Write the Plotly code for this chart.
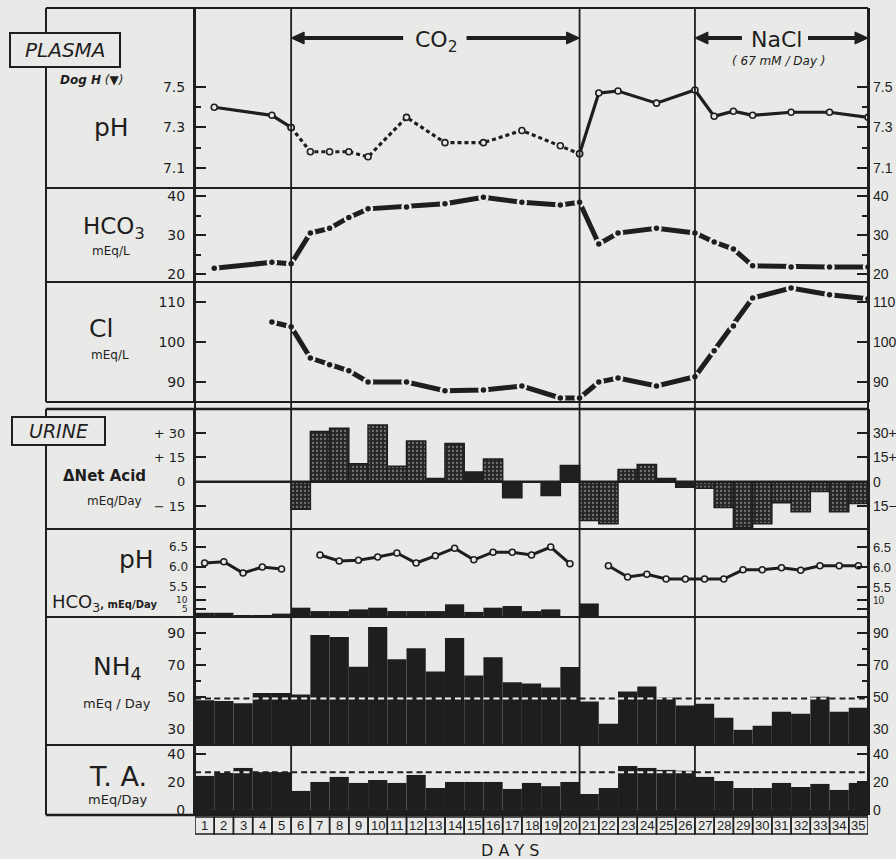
import plotly.graph_objects as go

# ---------------- data ----------------
DAYS = list(range(1, 36))
CO2_START, CO2_END, NACL_START = 5, 20, 26

# plasma samples, taken at the end of the listed day
plasma_day = [1, 4, 5, 6, 7, 8, 9, 11, 13, 15, 17, 19, 20, 21, 22, 24, 26, 27, 28, 29, 31, 33, 35]
plasma_ph = [7.40, 7.36, 7.30, 7.18, 7.18, 7.18, 7.155, 7.35, 7.225, 7.225, 7.285, 7.21, 7.17,
             7.47, 7.48, 7.42, 7.485, 7.355, 7.38, 7.36, 7.375, 7.375, 7.35]
plasma_hco3 = [21.5, 23.0, 22.6, 30.5, 31.7, 34.5, 36.7, 37.2, 38.0, 39.7, 38.4, 37.7, 38.4,
               27.7, 30.5, 31.7, 30.5, 28.2, 26.4, 22.1, 21.8, 21.8, 21.8]
plasma_cl_day = [4, 5, 6, 7, 8, 9, 11, 13, 15, 17, 19, 20, 21, 22, 24, 26, 27, 28, 29, 31, 33, 35]
plasma_cl = [105.0, 103.8, 96.0, 94.3, 92.8, 90.0, 90.0, 87.8, 88.0, 89.0, 86.0, 86.0,
             90.0, 91.0, 89.0, 91.3, 97.8, 104.0, 111.0, 113.5, 111.8, 110.8]

# urine, one value per day
net_acid = [None, None, None, None, None, -17, 31, 33, 11, 35, 9.5, 25, 2, 23.5, 6, 14, -10, 0,
            -8.5, 10, -24, -26, 7.5, 10.5, 2, -3.5, -4, -16, -28.5, -26, -13, -18.5, -6, -18.5, -13.5]
urine_ph = [6.1, 6.13, 5.85, 6.0, 5.95, None, 6.3, 6.15, 6.17, 6.25, 6.35, 6.1, 6.28, 6.47, 6.18,
            6.37, 6.37, 6.3, 6.5, 6.08, None, 6.03, 5.75, 5.82, 5.7, 5.7, 5.7, 5.7, 5.93, 5.93,
            5.98, 5.92, 6.03, 6.03, 6.03]
urine_hco3 = [2.5, 2.5, 1, 1, 2, 5.5, 3.5, 3.5, 4.5, 5.5, 3.5, 3.5, 3.5, 7.5, 3, 5.5, 6.5, 3.5,
              4.5, 0.5, 8, 0.5, 0.5, 0.5, 0.5, 0.5, 0.5, 0.5, 0.5, 0.5, 0.5, 0.5, 0.5, 0.5, 0.5]
nh4 = [48, 47.5, 46, 52.5, 52.5, 51.5, 88.8, 87.5, 69, 93.8, 73.6, 80.5, 66, 87, 63.5, 74.9,
       59.2, 58.4, 56, 68.7, 47.2, 33.2, 53.4, 56.5, 49.6, 44.6, 45.8, 37, 29.4, 32, 40.8,
       39.5, 50.2, 40.8, 43.2]
ta = [24.3, 26.4, 30, 27, 27, 13.6, 20, 23.6, 19.3, 21.4, 19.3, 25, 15.7, 20, 20, 20, 15, 19.3,
      17, 20, 11.4, 15.7, 31.4, 30, 28.6, 28, 23.6, 20.7, 15.7, 15.7, 19.3, 16.4, 18.6, 14.3, 19.3]
NH4_CONTROL = 49
TA_CONTROL = 27

# tick values and labels
ph_ticks, ph_text, ph_minor = [7.1, 7.3, 7.5], ["7.1", "7.3", "7.5"], [7.2, 7.4]
hco3_ticks, hco3_text, hco3_minor = [20, 30, 40], ["20", "30", "40"], [25, 35]
cl_ticks, cl_text = [90, 100, 110], ["90", "100", "110"]
na_ticks = [-15, 0, 15, 30]
na_text_left = ["\u2212 15", "0", "+ 15", "+ 30"]
na_text_right = ["15\u2212", "0", "15+", "30+"]
uph_ticks, uph_text = [5.5, 6.0, 6.5], ["5.5", "6.0", "6.5"]
uhco3_ticks, uhco3_text = [5, 10], ["5", "10"]
nh4_ticks, nh4_text, nh4_minor = [30, 50, 70, 90], ["30", "50", "70", "90"], [60, 80]
ta_ticks, ta_text = [0, 20, 40], ["0", "20", "40"]

# fill style of each net-acid bar ("." stippled, "" solid)
net_acid_fill = ["", "", "", "", "", ".", ".", ".", ".", ".", ".", ".", "", ".", "", ".", "", "",
                 "", "", ".", ".", ".", ".", "", "", ".", ".", ".", ".", ".", ".", ".", ".", "."]

# ---------------- layout helpers ----------------
W, H = 896, 859
ML, MR, MT, MB = 195, 28, 8, 44
PW, PH = W - ML - MR, H - MT - MB
BG = "#e9e9e7"
INK = "#1e1e1e"
FONT = "DejaVu Sans"
NUM_FONT = "Liberation Sans"
PX_PER_DAY = PW / 35


def fx(px):
    return (px - ML) / PW


def fy(py):
    return (H - MB - py) / PH


centers = [d - 0.5 for d in DAYS]

fig = go.Figure()

# ---- plasma pH: solid outside the CO2 period, dotted inside it ----
open_marker = dict(symbol="circle", size=6, color=BG, line=dict(color=INK, width=1.6))
pre = [(d, v) for d, v in zip(plasma_day, plasma_ph) if d <= CO2_START]
mid = [(d, v) for d, v in zip(plasma_day, plasma_ph) if CO2_START <= d <= CO2_END]
post = [(d, v) for d, v in zip(plasma_day, plasma_ph) if d >= CO2_END]
for seg, dash in ((pre, "solid"), (mid, "4px,3px"), (post, "solid")):
    fig.add_trace(go.Scatter(x=[p[0] for p in seg], y=[p[1] for p in seg], yaxis="y",
                             mode="lines+markers", line=dict(color=INK, width=3.2, dash=dash),
                             marker=open_marker))

# ---- plasma HCO3 and Cl ----
dot_marker = dict(symbol="circle", size=8, color=INK, line=dict(color=BG, width=2.5))
fig.add_trace(go.Scatter(x=plasma_day, y=plasma_hco3, yaxis="y2", mode="lines+markers",
                         line=dict(color=INK, width=5), marker=dot_marker))
fig.add_trace(go.Scatter(x=plasma_cl_day, y=plasma_cl, yaxis="y3", mode="lines+markers",
                         line=dict(color=INK, width=5), marker=dot_marker))

# ---- urine net acid ----
fig.add_trace(go.Bar(x=centers, y=net_acid, width=1, yaxis="y4",
                     marker=dict(color="#202020", line=dict(color=INK, width=1.5),
                                 pattern=dict(shape=net_acid_fill, fgcolor="#bdbdbd",
                                              bgcolor="#262626", size=4, solidity=0.25))))

# ---- urine pH and HCO3 ----
fig.add_trace(go.Scatter(x=centers, y=urine_ph, yaxis="y5", mode="lines+markers",
                         line=dict(color=INK, width=3), marker=open_marker))
fig.add_trace(go.Bar(x=centers, y=urine_hco3, width=1, yaxis="y6",
                     marker=dict(color=INK, line=dict(width=0))))

# ---- NH4 and titratable acid ----
fig.add_trace(go.Bar(x=centers, y=nh4, width=1, yaxis="y7",
                     marker=dict(color=INK, line=dict(width=0))))
fig.add_trace(go.Bar(x=centers, y=ta, width=1, yaxis="y8",
                     marker=dict(color=INK, line=dict(width=0))))

# ---------------- axes ----------------
def yaxis(top, bottom, rng, ticks, text, minor, size, axis_labels):
    ax = dict(domain=[fy(bottom), fy(top)], range=rng, anchor="x",
              tickmode="array", tickvals=ticks, ticktext=text,
              ticks="inside", ticklen=11, tickwidth=2, tickcolor=INK,
              showline=True, linecolor=INK, linewidth=2, mirror="ticks",
              showgrid=False, zeroline=False, ticklabelstandoff=5,
              showticklabels=axis_labels,
              tickfont=dict(family=FONT, size=size, color=INK))
    if minor:
        ax["minor"] = dict(tickmode="array", tickvals=minor, ticks="inside", ticklen=6,
                           tickwidth=2, tickcolor=INK, showgrid=False)
    return ax


# name: (top px, bottom px, range, ticks, left text, minor, right text, font size, axis labels)
PANELS = {
    "y": (8, 188, [7.001, 7.890], ph_ticks, ph_text, ph_minor, ph_text, 14, True),
    "y2": (188, 282, [17.95, 42.05], hco3_ticks, hco3_text, hco3_minor, hco3_text, 14, True),
    "y3": (282, 402, [85, 115], cl_ticks, cl_text, None, cl_text, 14, True),
    "y4": (409, 529, [-29.2, 44.8], na_ticks, na_text_left, None, na_text_right, 13, True),
    "y5": (529, 617, [4.75, 6.95], uph_ticks, uph_text, None, uph_text, 12, False),
    "y6": (595, 617, [0, 13], uhco3_ticks, uhco3_text, None, ["", "10"], 9, False),
    "y7": (617, 745, [19.9, 100.1], nh4_ticks, nh4_text, nh4_minor, nh4_text, 14, True),
    "y8": (745, 815, [-3.6, 46.4], ta_ticks, ta_text, None, ta_text, 14, True),
}

layout_axes = {}
annotations = []
for name, (top, bot, rng, tv, tt, mn, rt, fs, on_axis) in PANELS.items():
    key = "yaxis" if name == "y" else "yaxis" + name[1:]
    layout_axes[key] = yaxis(top, bot, rng, tv, tt, mn, fs, on_axis)
    for v, t in zip(tv, rt):
        if t:
            annotations.append(dict(x=1, xref="paper", y=v, yref=name, xanchor="left",
                                    xshift=3, text=t, showarrow=False,
                                    font=dict(family=NUM_FONT, size=min(fs + 1, 14), color=INK)))
    if not on_axis:
        # the urine pH and bicarbonate scales share one panel; label them directly
        for v, t in zip(tv, tt):
            annotations.append(dict(x=0, xref="paper", y=v, yref=name, xanchor="right",
                                    xshift=-5, text=t, showarrow=False,
                                    font=dict(family=FONT, size=fs, color=INK)))

# ---------------- frame and rules ----------------
shapes = []
LW = 2


def hline(py, x0=46, x1=868, w=LW):
    shapes.append(dict(type="line", xref="paper", yref="paper", x0=fx(x0), x1=fx(x1),
                       y0=fy(py), y1=fy(py), line=dict(color=INK, width=w)))


def vline_px(px, y0, y1, w=LW):
    shapes.append(dict(type="line", xref="paper", yref="paper", x0=fx(px), x1=fx(px),
                       y0=fy(y0), y1=fy(y1), line=dict(color=INK, width=w)))


# dark strip below zero for the T.A. bars
shapes.append(dict(type="rect", xref="x", yref="y8", x0=0, x1=35, y0=-3.6, y1=0,
                   fillcolor=INK, line=dict(width=0), layer="below"))

for py in (8, 188, 282, 402, 529, 617, 745):
    hline(py)
hline(815, w=2.5)
hline(409, w=2.5)
vline_px(46, 8, 402)
vline_px(46, 409, 815)
vline_px(195, 8, 815)
vline_px(868, 8, 815)
for d in (CO2_START, CO2_END, NACL_START):
    shapes.append(dict(type="line", xref="x", yref="paper", x0=d, x1=d, y0=0, y1=1,
                       line=dict(color=INK, width=1.8)))

# zero line of the net acid panel
shapes.append(dict(type="line", xref="x", yref="y4", x0=0, x1=35, y0=0, y1=0,
                   line=dict(color=INK, width=2.5)))

# control levels for NH4 and T.A.: light dashes over the bars, dark dashes elsewhere
for level, vals, yref in ((NH4_CONTROL, nh4, "y7"), (TA_CONTROL, ta, "y8")):
    for d, v in zip(DAYS, vals):
        shapes.append(dict(type="line", xref="x", yref=yref, x0=d - 1, x1=d, y0=level, y1=level,
                           line=dict(color="#f0f0f0" if v > level else INK, width=2,
                                     dash="6px,4px")))

# day number boxes
for d in DAYS:
    shapes.append(dict(type="rect", xref="x", yref="paper", x0=d - 1, x1=d, y0=fy(834), y1=fy(817),
                       line=dict(color=INK, width=1.5)))
    annotations.append(dict(x=d - 0.5, xref="x", y=fy(825.5), yref="paper", text=str(d),
                            showarrow=False, yanchor="middle",
                            font=dict(family="Liberation Sans Narrow, Liberation Sans", size=13,
                                      color=INK)))

# section label boxes
for x0, y0, x1, y1 in ((10, 33, 120, 67), (12, 417, 105, 445)):
    shapes.append(dict(type="rect", xref="paper", yref="paper", x0=fx(x0), x1=fx(x1),
                       y0=fy(y1), y1=fy(y0), fillcolor=BG, line=dict(color=INK, width=2)))

# treatment arrows: shaft plus a triangular head pointing at the period boundary
ARROW_Y = fy(38)
HEAD_LEN = 13 / PX_PER_DAY
HEAD_HALF = 6 / PH
for head, direction, shaft_px in ((CO2_START, 1, 112), (CO2_END, -1, 113),
                                  (NACL_START, 1, 47), (35, -1, 60)):
    tail = head + direction * shaft_px / PX_PER_DAY
    base = head + direction * HEAD_LEN
    shapes.append(dict(type="line", xref="x", yref="paper", x0=base, x1=tail,
                       y0=ARROW_Y, y1=ARROW_Y, line=dict(color=INK, width=4)))
    shapes.append(dict(type="path", xref="x", yref="paper",
                       path=f"M {head} {ARROW_Y} L {base} {ARROW_Y + HEAD_HALF} "
                            f"L {base} {ARROW_Y - HEAD_HALF} Z",
                       fillcolor=INK, line=dict(color=INK, width=1)))


def label(text, cx, cy, size, xanchor="center"):
    annotations.append(dict(x=fx(cx), y=fy(cy), xref="paper", yref="paper", text=text,
                            showarrow=False, xanchor=xanchor, yanchor="middle",
                            font=dict(family=FONT, size=size, color=INK)))


label("<i>PLASMA</i>", 65, 50, 20)
label("<i><b>Dog H</b> (▼)</i>", 92, 80, 12)
label("pH", 111, 127, 25)
label("HCO<sub>3</sub>", 114, 228, 23)
label("mEq/L", 111, 251, 12)
label("Cl", 101, 329, 25)
label("mEq/L", 110, 355, 12)
label("<i>URINE</i>", 58, 431, 19)
label("<b>ΔNet Acid</b>", 104, 476, 15)
label("mEq/Day", 114, 501, 12)
label("pH", 136, 559, 25)
label("HCO<sub>3</sub><span style='font-size:10px'><b>, mEq/Day</b></span>", 50, 603, 18,
      xanchor="left")
label("NH<sub>4</sub>", 117, 668, 25)
label("mEq / Day", 117, 703, 13)
label("T. A.", 118, 776, 27)
label("mEq/Day", 117, 799, 13)
label("D A Y S", 510, 850, 16)

# treatment periods
label("CO<sub>2</sub>", 436, 42, 22)
label("NaCl", 776, 39, 22)
label("<i>( 67 mM / Day )</i>", 779, 61, 12)

fig.update_layout(
    width=W, height=H,
    margin=dict(l=ML, r=MR, t=MT, b=MB, pad=0),
    paper_bgcolor=BG, plot_bgcolor=BG,
    showlegend=False, barmode="overlay", hovermode=False,
    xaxis=dict(domain=[0, 1], range=[0, 35], anchor="y8", visible=False, fixedrange=True),
    shapes=shapes, annotations=annotations,
    **layout_axes,
)

fig.write_html("out.html")
